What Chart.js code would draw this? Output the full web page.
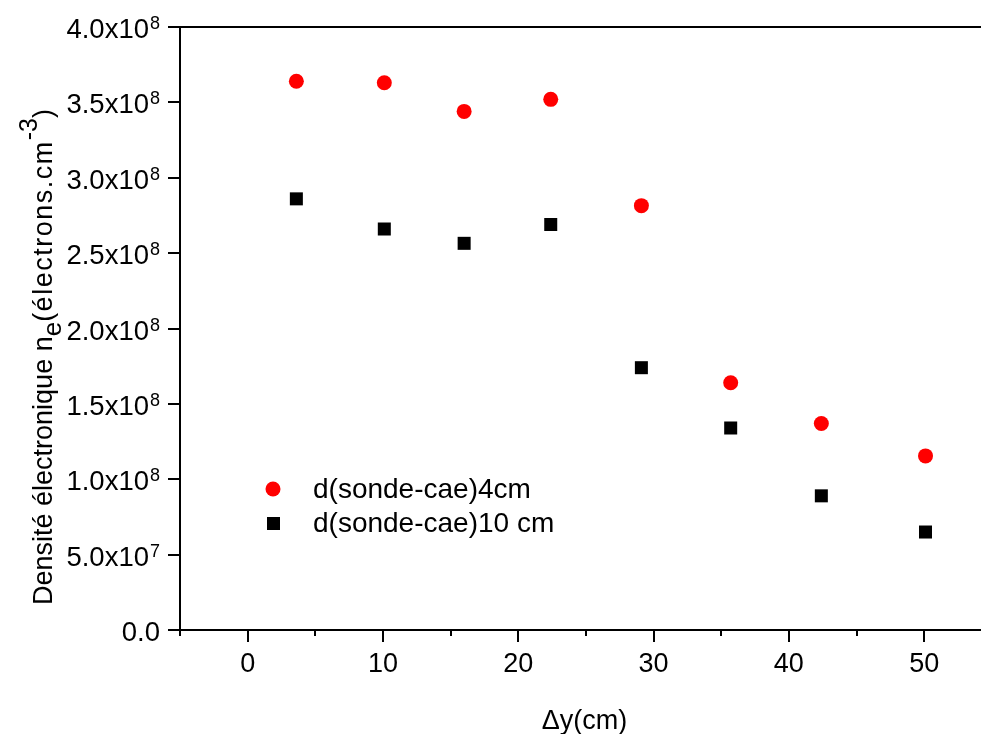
<!DOCTYPE html>
<html lang="fr">
<head>
    <meta charset="UTF-8">
    <title>Densité électronique</title>
    <script src="https://cdn.jsdelivr.net/npm/chart.js"></script>
    <style>
        body { margin: 0; background: #fff; }
        canvas { display: block; }
    </style>
</head>
<body>
    <canvas id="densityChart" width="981" height="734"></canvas>
    <script>
        // Données
        const distances = [3.6, 10.1, 16.0, 22.4, 29.1, 35.7, 42.4, 50.1];
        const density4cm = [3.64e8, 3.63e8, 3.44e8, 3.52e8, 2.815e8, 1.64e8, 1.37e8, 1.155e8];
        const density10cm = [2.86e8, 2.66e8, 2.565e8, 2.69e8, 1.74e8, 1.34e8, 0.89e8, 0.65e8];
        const seriesNames = ['d(sonde-cae)4cm', 'd(sonde-cae)10 cm'];

        // Graduations
        const xTickValues = [0, 10, 20, 30, 40, 50];
        const xMinorTickValues = [-5, 5, 15, 25, 35, 45];
        const yTickValues = [0, 5e7, 1e8, 1.5e8, 2e8, 2.5e8, 3e8, 3.5e8, 4e8];
        const yTickMantissa = ['0.0', '5.0x10', '1.0x10', '1.5x10', '2.0x10', '2.5x10', '3.0x10', '3.5x10', '4.0x10'];
        const yTickExponent = ['', '7', '8', '8', '8', '8', '8', '8', '8'];

        const FONT = '"Liberation Sans", Arial, sans-serif';

        // Dessin des graduations, titres et légende
        const decorations = {
            id: 'decorations',
            afterDraw(chart) {
                const ctx = chart.ctx;
                const xs = chart.scales.x;
                const ys = chart.scales.y;
                const area = chart.chartArea;
                ctx.save();
                ctx.strokeStyle = '#000';
                ctx.fillStyle = '#000';
                ctx.lineWidth = 2;

                // cadre du haut
                ctx.beginPath();
                ctx.moveTo(area.left - 1, area.top);
                ctx.lineTo(chart.width, area.top);
                ctx.stroke();

                // graduations x
                ctx.beginPath();
                xTickValues.forEach(v => {
                    const px = Math.round(xs.getPixelForValue(v));
                    ctx.moveTo(px, area.bottom);
                    ctx.lineTo(px, area.bottom + 12);
                });
                xMinorTickValues.forEach(v => {
                    const px = Math.round(xs.getPixelForValue(v));
                    ctx.moveTo(px, area.bottom);
                    ctx.lineTo(px, area.bottom + 6);
                });
                // graduations y
                yTickValues.forEach(v => {
                    const py = Math.round(ys.getPixelForValue(v));
                    ctx.moveTo(area.left, py);
                    ctx.lineTo(area.left - 12, py);
                });
                ctx.stroke();

                // étiquettes x
                ctx.font = '27px ' + FONT;
                ctx.textAlign = 'center';
                ctx.textBaseline = 'alphabetic';
                xTickValues.forEach(v => {
                    ctx.fillText(String(v), xs.getPixelForValue(v), area.bottom + 42);
                });

                // étiquettes y avec exposant
                const rightEdge = 160;
                yTickValues.forEach((v, i) => {
                    const py = ys.getPixelForValue(v);
                    ctx.font = '18px ' + FONT;
                    const supW = yTickExponent[i] ? ctx.measureText(yTickExponent[i]).width + 1 : 0;
                    ctx.font = '27.5px ' + FONT;
                    ctx.textAlign = 'right';
                    ctx.fillText(yTickMantissa[i], rightEdge - supW, py + 11);
                    if (yTickExponent[i]) {
                        ctx.font = '18px ' + FONT;
                        ctx.textAlign = 'left';
                        ctx.fillText(yTickExponent[i], rightEdge - supW + 1, py + 2);
                    }
                });

                // titre x
                ctx.font = '27px ' + FONT;
                ctx.textAlign = 'center';
                ctx.fillText('\u0394y(cm)', (area.left + area.right) / 2 + 4, 729);

                // titre y (tourné)
                ctx.save();
                ctx.translate(52, 605);
                ctx.rotate(-Math.PI / 2);
                ctx.textAlign = 'left';
                const parts = [
                    { t: 'Densité électronique n', size: 27, dy: 0, ls: 0 },
                    { t: 'e', size: 26, dy: 9, ls: 0 },
                    { t: '(électrons.cm', size: 27, dy: 0, ls: 1.5 },
                    { t: '-3', size: 25, dy: -15, ls: 0 },
                    { t: ')', size: 27, dy: 0, ls: 0 }
                ];
                let cx = 0;
                parts.forEach(p => {
                    ctx.font = p.size + 'px ' + FONT;
                    ctx.letterSpacing = p.ls + 'px';
                    ctx.fillText(p.t, cx, p.dy);
                    cx += ctx.measureText(p.t).width;
                });
                ctx.letterSpacing = '0px';
                ctx.restore();

                // légende
                ctx.font = '28px ' + FONT;
                ctx.textAlign = 'left';
                ctx.fillStyle = '#ff0000';
                ctx.beginPath();
                ctx.arc(273, 489, 7.5, 0, Math.PI * 2);
                ctx.fill();
                ctx.fillStyle = '#000';
                ctx.fillRect(267, 517, 13, 13);
                ctx.fillText(seriesNames[0], 313, 498);
                ctx.fillText(seriesNames[1], 313, 532);

                ctx.restore();
            }
        };

        const ctxScatter = document.getElementById('densityChart').getContext('2d');
        const densityChart = new Chart(ctxScatter, {
            type: 'scatter',
            data: {
                datasets: [
                    {
                        label: seriesNames[0],
                        data: distances.map((d, i) => ({ x: d, y: density4cm[i] })),
                        pointStyle: 'circle',
                        pointRadius: 7.5,
                        pointBorderWidth: 0,
                        backgroundColor: '#ff0000',
                        borderColor: '#ff0000'
                    },
                    {
                        label: seriesNames[1],
                        data: distances.map((d, i) => ({ x: d, y: density10cm[i] })),
                        pointStyle: 'rect',
                        pointRadius: 9.2,
                        pointBorderWidth: 0,
                        backgroundColor: '#000000',
                        borderColor: '#000000'
                    }
                ]
            },
            options: {
                responsive: false,
                animation: false,
                layout: { autoPadding: false, padding: { top: 27, right: 0, left: 0, bottom: 0 } },
                plugins: {
                    legend: { display: false },
                    tooltip: { enabled: false }
                },
                scales: {
                    x: {
                        type: 'linear',
                        min: -5,
                        max: 54.2,
                        ticks: { display: false },
                        grid: { display: false },
                        border: { display: true, color: '#000', width: 2 },
                        afterFit: s => { s.height = 104; }
                    },
                    y: {
                        min: 0,
                        max: 4e8,
                        ticks: { display: false },
                        grid: { display: false },
                        border: { display: true, color: '#000', width: 2 },
                        afterFit: s => { s.width = 180; }
                    }
                }
            },
            plugins: [decorations]
        });
    </script>
</body>
</html>
